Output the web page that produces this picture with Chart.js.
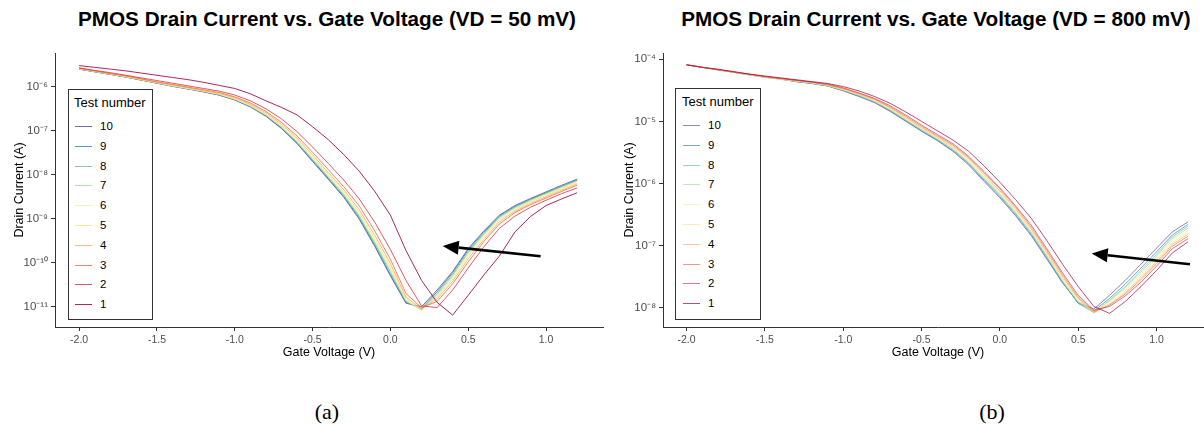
<!DOCTYPE html>
<html>
<head>
    <title>PMOS Drain Current vs. Gate Voltage</title>
    <script src="https://cdn.jsdelivr.net/npm/chart.js"></script>
    <style>
        body { margin: 0; width: 1204px; height: 434px; overflow: hidden; background: #fff; position: relative; font-family: "Liberation Sans", Arial, sans-serif; }
        .box { position: absolute; }
        .title { position: absolute; width: 654px; text-align: center; font-weight: bold; font-size: 20.7px; line-height: 24px; color: #000; }
        .caption { position: absolute; width: 100px; text-align: center; font-family: "Liberation Serif", serif; font-size: 22px; line-height: 26px; color: #000; }
        .legend { position: absolute; border: 1px solid #333; background: #fff; box-sizing: border-box; }
        .legend .lt { position: absolute; font-size: 13px; line-height: 15px; color: #000; white-space: nowrap; }
        .legend .row { position: absolute; height: 20px; }
        .legend .mk { position: absolute; top: 10px; width: 17px; height: 1px; }
        .legend .lb { position: absolute; top: 0; font-size: 11.5px; line-height: 20px; color: #000; }
    </style>
</head>
<body>
    <div class="title" style="left: 0px; top: 7px;">PMOS Drain Current vs. Gate Voltage (VD = 50 mV)</div>
    <div class="title" style="left: 609px; top: 7px;">PMOS Drain Current vs. Gate Voltage (VD = 800 mV)</div>
    <div class="box" style="left: 0px; top: 0px;"><canvas id="chartA" width="610" height="360"></canvas></div>
    <div class="box" style="left: 610px; top: 0px;"><canvas id="chartB" width="620" height="360"></canvas></div>
    <div class="legend" id="legendA" style="left: 68px; top: 89px; width: 85px; height: 231px;"></div>
    <div class="legend" id="legendB" style="left: 675px; top: 88px; width: 86px; height: 232px;"></div>
    <div class="caption" style="left: 277px; top: 399px;">(a)</div>
    <div class="caption" style="left: 942px; top: 399px;">(b)</div>
    <script>
        // gate voltage sweep (V)
        const gateVoltage = [-2.0, -1.9, -1.8, -1.7, -1.6, -1.5, -1.4, -1.3, -1.2, -1.1,
                             -1.0, -0.9, -0.8, -0.7, -0.6, -0.5, -0.4, -0.3, -0.2, -0.1,
                              0.0,  0.1,  0.2,  0.3,  0.4,  0.5,  0.6,  0.7,  0.8,  0.9,
                              1.0,  1.1,  1.2];

        const testNumbers = ['10', '9', '8', '7', '6', '5', '4', '3', '2', '1'];
        const lineColors = ['#5E4FA2', '#3288BD', '#66C2A5', '#ABDDA4', '#E6F598',
                            '#FEE08B', '#FDAE61', '#F46D43', '#D53E4F', '#9E0142'];

        const xTicks = [-2.0, -1.5, -1.0, -0.5, 0.0, 0.5, 1.0];
        const yTicksA = [1e-11, 1e-10, 1e-9, 1e-8, 1e-7, 1e-6];
        const yTicksB = [1e-8, 1e-7, 1e-6, 1e-5, 1e-4];

        // drain current as log10(A) -- VD = 50 mV
        const log10IdA10 = [-5.60,-5.66,-5.72,-5.78,-5.85,-5.92,-5.99,-6.05,-6.12,-6.19,
                            -6.30,-6.46,-6.67,-6.95,-7.29,-7.70,-8.10,-8.51,-9.01,-9.63,
                            -10.30,-10.92,-11.00,-10.62,-10.20,-9.68,-9.28,-8.92,-8.70,-8.54,
                            -8.39,-8.24,-8.10];
        const log10IdA9 = [-5.60,-5.66,-5.72,-5.78,-5.85,-5.92,-5.99,-6.05,-6.11,-6.19,
                           -6.30,-6.45,-6.66,-6.94,-7.28,-7.68,-8.08,-8.49,-8.98,-9.60,
                           -10.27,-10.90,-11.04,-10.66,-10.23,-9.71,-9.31,-8.94,-8.72,-8.56,
                           -8.41,-8.26,-8.12];
        const log10IdA8 = [-5.60,-5.66,-5.71,-5.77,-5.84,-5.91,-5.98,-6.04,-6.11,-6.18,
                           -6.29,-6.44,-6.65,-6.92,-7.26,-7.66,-8.06,-8.46,-8.95,-9.56,
                           -10.22,-10.88,-11.06,-10.70,-10.27,-9.75,-9.34,-8.96,-8.74,-8.57,
                           -8.42,-8.27,-8.13];
        const log10IdA7 = [-5.59,-5.65,-5.71,-5.77,-5.84,-5.91,-5.98,-6.04,-6.10,-6.17,
                           -6.28,-6.44,-6.64,-6.91,-7.25,-7.64,-8.04,-8.44,-8.93,-9.53,
                           -10.18,-10.86,-11.08,-10.73,-10.30,-9.78,-9.36,-8.98,-8.76,-8.59,
                           -8.44,-8.29,-8.15];
        const log10IdA6 = [-5.59,-5.65,-5.71,-5.77,-5.84,-5.91,-5.98,-6.04,-6.10,-6.17,
                           -6.28,-6.43,-6.63,-6.90,-7.23,-7.62,-8.02,-8.42,-8.90,-9.50,
                           -10.15,-10.85,-11.07,-10.75,-10.33,-9.80,-9.38,-9.00,-8.77,-8.60,
                           -8.45,-8.30,-8.16];
        const log10IdA5 = [-5.59,-5.65,-5.71,-5.77,-5.83,-5.90,-5.97,-6.03,-6.10,-6.16,
                           -6.27,-6.42,-6.62,-6.88,-7.21,-7.59,-7.99,-8.39,-8.86,-9.45,
                           -10.10,-10.82,-11.08,-10.78,-10.37,-9.85,-9.42,-9.03,-8.80,-8.62,
                           -8.47,-8.32,-8.18];
        const log10IdA4 = [-5.59,-5.64,-5.70,-5.76,-5.83,-5.90,-5.96,-6.02,-6.09,-6.15,
                           -6.25,-6.40,-6.59,-6.85,-7.17,-7.55,-7.95,-8.34,-8.80,-9.38,
                           -10.02,-10.78,-11.05,-10.82,-10.42,-9.91,-9.47,-9.07,-8.83,-8.65,
                           -8.50,-8.35,-8.21];
        const log10IdA3 = [-5.58,-5.64,-5.70,-5.75,-5.82,-5.89,-5.95,-6.01,-6.07,-6.13,
                           -6.23,-6.37,-6.56,-6.81,-7.12,-7.49,-7.88,-8.27,-8.71,-9.28,
                           -9.92,-10.70,-11.02,-10.88,-10.48,-9.98,-9.52,-9.12,-8.86,-8.68,
                           -8.53,-8.38,-8.24];
        const log10IdA2 = [-5.57,-5.63,-5.68,-5.74,-5.80,-5.86,-5.92,-5.98,-6.04,-6.10,
                           -6.19,-6.32,-6.50,-6.73,-7.02,-7.37,-7.74,-8.12,-8.55,-9.08,
                           -9.70,-10.40,-10.98,-11.02,-10.62,-10.12,-9.64,-9.22,-8.94,-8.74,
                           -8.58,-8.43,-8.30];
        const log10IdA1 = [-5.52,-5.56,-5.60,-5.64,-5.69,-5.74,-5.79,-5.84,-5.90,-5.97,
                           -6.04,-6.16,-6.32,-6.47,-6.64,-6.91,-7.20,-7.54,-7.92,-8.38,
                           -8.92,-9.72,-10.40,-10.90,-11.19,-10.74,-10.28,-9.85,-9.30,-8.95,
                           -8.70,-8.55,-8.41];

        // drain current as log10(A) -- VD = 800 mV
        const log10IdB10 = [-4.09,-4.13,-4.17,-4.21,-4.25,-4.29,-4.32,-4.36,-4.39,-4.43,
                            -4.51,-4.60,-4.70,-4.84,-5.00,-5.16,-5.31,-5.48,-5.70,-5.97,
                            -6.23,-6.52,-6.84,-7.22,-7.60,-7.92,-8.02,-7.80,-7.56,-7.30,
                            -7.04,-6.78,-6.62];
        const log10IdB9 = [-4.09,-4.13,-4.17,-4.21,-4.25,-4.29,-4.32,-4.36,-4.39,-4.43,
                           -4.50,-4.59,-4.69,-4.83,-4.99,-5.15,-5.30,-5.47,-5.68,-5.95,
                           -6.21,-6.50,-6.82,-7.20,-7.59,-7.93,-8.05,-7.85,-7.62,-7.36,
                           -7.10,-6.83,-6.66];
        const log10IdB8 = [-4.09,-4.13,-4.17,-4.21,-4.25,-4.29,-4.32,-4.36,-4.39,-4.43,
                           -4.50,-4.58,-4.68,-4.82,-4.98,-5.14,-5.29,-5.45,-5.67,-5.93,
                           -6.19,-6.48,-6.80,-7.18,-7.58,-7.93,-8.08,-7.88,-7.66,-7.40,
                           -7.14,-6.86,-6.69];
        const log10IdB7 = [-4.09,-4.13,-4.17,-4.21,-4.25,-4.29,-4.32,-4.35,-4.38,-4.42,
                           -4.49,-4.58,-4.68,-4.81,-4.97,-5.13,-5.28,-5.44,-5.65,-5.91,
                           -6.17,-6.46,-6.78,-7.16,-7.56,-7.90,-8.07,-7.89,-7.68,-7.43,
                           -7.17,-6.89,-6.72];
        const log10IdB6 = [-4.09,-4.13,-4.17,-4.21,-4.25,-4.29,-4.32,-4.35,-4.38,-4.42,
                           -4.49,-4.57,-4.67,-4.80,-4.96,-5.12,-5.27,-5.43,-5.64,-5.90,
                           -6.16,-6.45,-6.77,-7.15,-7.54,-7.88,-8.06,-7.90,-7.70,-7.46,
                           -7.20,-6.92,-6.76];
        const log10IdB5 = [-4.09,-4.13,-4.17,-4.21,-4.25,-4.29,-4.32,-4.35,-4.38,-4.42,
                           -4.49,-4.56,-4.66,-4.79,-4.95,-5.11,-5.26,-5.42,-5.62,-5.88,
                           -6.14,-6.43,-6.75,-7.13,-7.52,-7.86,-8.07,-7.93,-7.73,-7.49,
                           -7.23,-6.95,-6.79];
        const log10IdB4 = [-4.09,-4.13,-4.17,-4.21,-4.25,-4.28,-4.31,-4.34,-4.37,-4.41,
                           -4.48,-4.56,-4.65,-4.78,-4.94,-5.10,-5.25,-5.40,-5.60,-5.86,
                           -6.12,-6.41,-6.73,-7.11,-7.50,-7.85,-8.08,-7.95,-7.76,-7.52,
                           -7.26,-6.98,-6.82];
        const log10IdB3 = [-4.09,-4.13,-4.17,-4.21,-4.24,-4.28,-4.31,-4.34,-4.37,-4.41,
                           -4.47,-4.55,-4.64,-4.77,-4.92,-5.08,-5.23,-5.38,-5.58,-5.83,
                           -6.09,-6.38,-6.70,-7.08,-7.47,-7.83,-8.06,-7.96,-7.78,-7.55,
                           -7.29,-7.01,-6.85];
        const log10IdB2 = [-4.09,-4.13,-4.17,-4.20,-4.24,-4.28,-4.31,-4.34,-4.37,-4.40,
                           -4.46,-4.54,-4.63,-4.75,-4.90,-5.06,-5.21,-5.36,-5.56,-5.81,
                           -6.07,-6.36,-6.67,-7.05,-7.44,-7.80,-8.04,-7.98,-7.81,-7.59,
                           -7.33,-7.05,-6.89];
        const log10IdB1 = [-4.09,-4.13,-4.16,-4.20,-4.24,-4.27,-4.30,-4.33,-4.36,-4.39,
                           -4.44,-4.51,-4.60,-4.71,-4.85,-5.00,-5.15,-5.30,-5.48,-5.72,
                           -5.98,-6.26,-6.56,-6.92,-7.30,-7.66,-7.98,-8.09,-7.90,-7.66,
                           -7.40,-7.12,-6.94];

        // arrow annotations: [gate voltage, drain current] for tail and head
        const arrowA = { from: [0.965, 1.41e-10], to: [0.336, 2.40e-10] };
        const arrowB = { from: [1.213, 5.0e-8], to: [0.586, 7.48e-8] };

        const seriesA = [log10IdA10, log10IdA9, log10IdA8, log10IdA7, log10IdA6,
                         log10IdA5, log10IdA4, log10IdA3, log10IdA2, log10IdA1];
        const seriesB = [log10IdB10, log10IdB9, log10IdB8, log10IdB7, log10IdB6,
                         log10IdB5, log10IdB4, log10IdB3, log10IdB2, log10IdB1];

        const supMap = { '-': '\u207B', '0': '\u2070', '1': '\u00B9', '2': '\u00B2', '3': '\u00B3',
                         '4': '\u2074', '5': '\u2075', '6': '\u2076', '7': '\u2077', '8': '\u2078', '9': '\u2079' };
        function powLabel(v) {
            const e = String(Math.round(Math.log10(v)));
            return '10' + e.split('').map(c => supMap[c]).join('');
        }

        function withAlpha(hex, a) {
            const n = parseInt(hex.slice(1), 16);
            return 'rgba(' + (n >> 16) + ',' + ((n >> 8) & 255) + ',' + (n & 255) + ',' + a + ')';
        }

        const arrowPlugin = {
            id: 'arrow',
            afterDatasetsDraw(chart, args, opts) {
                const { ctx, scales: { x, y } } = chart;
                const x0 = x.getPixelForValue(opts.from[0]), y0 = y.getPixelForValue(opts.from[1]);
                const x1 = x.getPixelForValue(opts.to[0]), y1 = y.getPixelForValue(opts.to[1]);
                const ang = Math.atan2(y1 - y0, x1 - x0);
                const headLen = 16, headW = 7;
                const bx = x1 - headLen * Math.cos(ang), by = y1 - headLen * Math.sin(ang);
                ctx.save();
                ctx.strokeStyle = '#000';
                ctx.fillStyle = '#000';
                ctx.lineWidth = 2.6;
                ctx.beginPath();
                ctx.moveTo(x0, y0);
                ctx.lineTo(bx, by);
                ctx.stroke();
                ctx.beginPath();
                ctx.moveTo(x1, y1);
                ctx.lineTo(bx + headW * Math.sin(ang), by - headW * Math.cos(ang));
                ctx.lineTo(bx - headW * Math.sin(ang), by + headW * Math.cos(ang));
                ctx.closePath();
                ctx.fill();
                ctx.restore();
            }
        };

        function makeChart(id, series, alpha, cfg) {
            // draw test 1 first so test 10 ends up on top
            const datasets = series.map((s, i) => ({
                label: testNumbers[i],
                data: gateVoltage.map((v, j) => ({ x: v, y: Math.pow(10, s[j]) })),
                borderColor: withAlpha(lineColors[i], alpha),
                borderWidth: 1,
                pointRadius: 0,
                tension: 0,
                fill: false
            })).reverse();

            return new Chart(document.getElementById(id), {
                type: 'line',
                data: { datasets: datasets },
                plugins: [arrowPlugin],
                options: {
                    responsive: false,
                    animation: false,
                    devicePixelRatio: 1,
                    layout: { padding: cfg.padding },
                    plugins: {
                        legend: { display: false },
                        tooltip: { enabled: false },
                        arrow: cfg.arrow
                    },
                    scales: {
                        x: {
                            type: 'linear',
                            min: cfg.xMin,
                            max: cfg.xMax,
                            afterFit: s => { s.height = 33; },
                            afterBuildTicks: s => { s.ticks = xTicks.map(v => ({ value: v })); },
                            ticks: {
                                autoSkip: false, maxRotation: 0, padding: 3,
                                color: '#4d4d4d',
                                font: { family: 'Liberation Sans', size: 10.5 },
                                callback: v => v.toFixed(1)
                            },
                            grid: { drawOnChartArea: false, tickLength: 4, color: '#333' },
                            border: { color: '#333', width: 1 },
                            title: {
                                display: true, text: 'Gate Voltage (V)', color: '#000',
                                font: { family: 'Liberation Sans', size: 12.5 }, padding: 0
                            }
                        },
                        y: {
                            type: 'logarithmic',
                            min: cfg.yMin,
                            max: cfg.yMax,
                            afterFit: s => { s.width = cfg.yWidth; },
                            afterBuildTicks: s => { s.ticks = cfg.yTicks.map(v => ({ value: v })); },
                            ticks: {
                                autoSkip: false, padding: 3,
                                color: '#4d4d4d',
                                font: { family: 'Liberation Sans', size: 11.5 },
                                callback: v => powLabel(v)
                            },
                            grid: { drawOnChartArea: false, tickLength: 4, color: '#333' },
                            border: { color: '#333', width: 1 },
                            title: {
                                display: true, text: 'Drain Current (A)', color: '#000',
                                font: { family: 'Liberation Sans', size: 12.5 }, padding: { top: 12 }
                            }
                        }
                    }
                }
            });
        }

        makeChart('chartA', seriesA, 0.85, {
            padding: { left: 0, top: 53, right: 7, bottom: 0 },
            xMin: -2.155, xMax: 1.366,
            yMin: Math.pow(10, -11.46), yMax: Math.pow(10, -5.234),
            yTicks: yTicksA, yWidth: 55, arrow: arrowA
        });
        makeChart('chartB', seriesB, 0.7, {
            padding: { left: 0, top: 53, right: 17, bottom: 0 },
            xMin: -2.15, xMax: 1.36,
            yMin: Math.pow(10, -8.31), yMax: Math.pow(10, -3.9),
            yTicks: yTicksB, yWidth: 53, arrow: arrowB
        });

        // legend boxes built from the same labels and colours
        function buildLegend(id, alpha, markLeft, textLeft) {
            const box = document.getElementById(id);
            const t = document.createElement('div');
            t.className = 'lt';
            t.textContent = 'Test number';
            t.style.left = (markLeft - 1) + 'px';
            t.style.top = '5px';
            box.appendChild(t);
            testNumbers.forEach((n, i) => {
                const row = document.createElement('div');
                row.className = 'row';
                row.style.top = Math.round(26 + i * 19.8) + 'px';
                row.style.left = '0px';
                const mk = document.createElement('div');
                mk.className = 'mk';
                mk.style.left = markLeft + 'px';
                mk.style.background = withAlpha(lineColors[i], alpha);
                const lb = document.createElement('div');
                lb.className = 'lb';
                lb.style.left = textLeft + 'px';
                lb.textContent = n;
                row.appendChild(mk);
                row.appendChild(lb);
                box.appendChild(row);
            });
        }
        buildLegend('legendA', 0.85, 6, 31);
        buildLegend('legendB', 0.7, 7, 32);
    </script>
</body>
</html>
